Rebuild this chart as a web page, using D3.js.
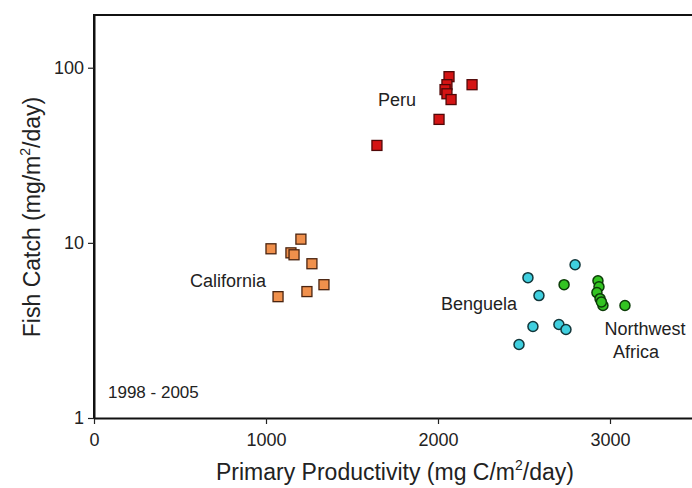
<!DOCTYPE html>
<html><head><meta charset="utf-8">
<script src="https://cdn.jsdelivr.net/npm/d3@7/dist/d3.min.js"></script>
<style>body{margin:0;background:#fff}svg{display:block}text{font-family:"Liberation Sans",Arial,sans-serif;fill:#222}</style>
</head><body><svg id="c" width="692" height="488"></svg>
<script>
const xTicks = [0, 1000, 2000, 3000];
const yTicks = [1, 10, 100];
const peru = [[2064,88.9],[2052,80],[2041,75],[2052,71],[2076,65.8],[2198,80],[2006,50.7],[1645,36]];
const california = [[1203,10.5],[1029,9.25],[1145,8.77],[1163,8.55],[1267,7.6],[1337,5.77],[1238,5.27],[1070,4.93]];
const benguela = [[2797,7.5],[2523,6.33],[2587,5.0],[2552,3.33],[2703,3.42],[2744,3.2],[2471,2.63]];
const nwAfrica = [[2733,5.77],[2930,6.08],[2936,5.62],[2924,5.2],[2942,4.8],[2959,4.39],[2950,4.6],[3087,4.39]];
const labels = [
  {t:"Peru", x:1651, y:60.5},
  {t:"California", x:558, y:5.6},
  {t:"Benguela", x:2017, y:4.14},
];

const svg = d3.select("#c");
const m = {l:94, t:15, b:418, r:696};
const x = d3.scaleLinear().domain([0,3500]).range([m.l, m.r]);
const y = d3.scaleLog().domain([1,200]).range([m.b, m.t]);

// frame
svg.append("path").attr("d",`M${m.l},${m.b}V${m.t}H${m.r+5}`).attr("fill","none").attr("stroke","#111").attr("stroke-width",2);

const xa = svg.append("g").attr("transform",`translate(0,${m.b})`)
  .call(d3.axisBottom(x).tickValues(xTicks).tickFormat(d3.format("d")).tickSize(6).tickSizeOuter(0));
const ya = svg.append("g").attr("transform",`translate(${m.l},0)`)
  .call(d3.axisLeft(y).tickValues(yTicks).tickFormat(d3.format("d")).tickSize(6).tickSizeOuter(0));
[xa,ya].forEach(a=>{
  a.select(".domain").attr("stroke","#111").attr("stroke-width",2);
  a.selectAll(".tick line").attr("stroke","#222").attr("stroke-width",1.2);
  a.selectAll(".tick text").attr("font-size",18).attr("fill","#222").style("font-family","Liberation Sans, Arial, sans-serif");
});
xa.selectAll(".tick text").attr("dy","1.05em");
ya.selectAll(".tick text").attr("x",-10);

const sq = 10;
function squares(data, fill, stroke){
  svg.append("g").selectAll("rect").data(data).join("rect")
    .attr("x",d=>x(d[0])-sq/2).attr("y",d=>y(d[1])-sq/2).attr("width",sq).attr("height",sq)
    .attr("fill",fill).attr("stroke",stroke).attr("stroke-width",1.3);
}
function circles(data, fill, stroke){
  svg.append("g").selectAll("circle").data(data).join("circle")
    .attr("cx",d=>x(d[0])).attr("cy",d=>y(d[1])).attr("r",5)
    .attr("fill",fill).attr("stroke",stroke).attr("stroke-width",1.5);
}
squares(california,"#f0904c","#4a2410");
squares(peru,"#d41414","#500808");
circles(benguela,"#3fcfdf","#12363a");
circles(nwAfrica,"#33c422","#0c3c08");

labels.forEach(l=>svg.append("text").attr("x",x(l.x)).attr("y",y(l.y)).attr("font-size",18).text(l.t));
const nw = svg.append("text").attr("font-size",18).attr("text-anchor","middle");
nw.append("tspan").attr("x",x(3203)).attr("y",y(2.98)).text("Northwest");
nw.append("tspan").attr("x",x(3151)).attr("y",y(2.2)).text("Africa");

svg.append("text").attr("x",108).attr("y",398).attr("font-size",17).text("1998 - 2005");

const xt = svg.append("text").attr("x",395).attr("y",480).attr("font-size",23).attr("text-anchor","middle");
xt.append("tspan").text("Primary Productivity (mg C/m");
xt.append("tspan").attr("font-size",14).attr("dy",-10).text("2");
xt.append("tspan").attr("dy",10).text("/day)");

const yt = svg.append("text").attr("transform","translate(40,217) rotate(-90)").attr("font-size",23).attr("text-anchor","middle");
yt.append("tspan").text("Fish Catch (mg/m");
yt.append("tspan").attr("font-size",14).attr("dy",-10).text("2");
yt.append("tspan").attr("dy",10).text("/day)");
</script></body></html>
